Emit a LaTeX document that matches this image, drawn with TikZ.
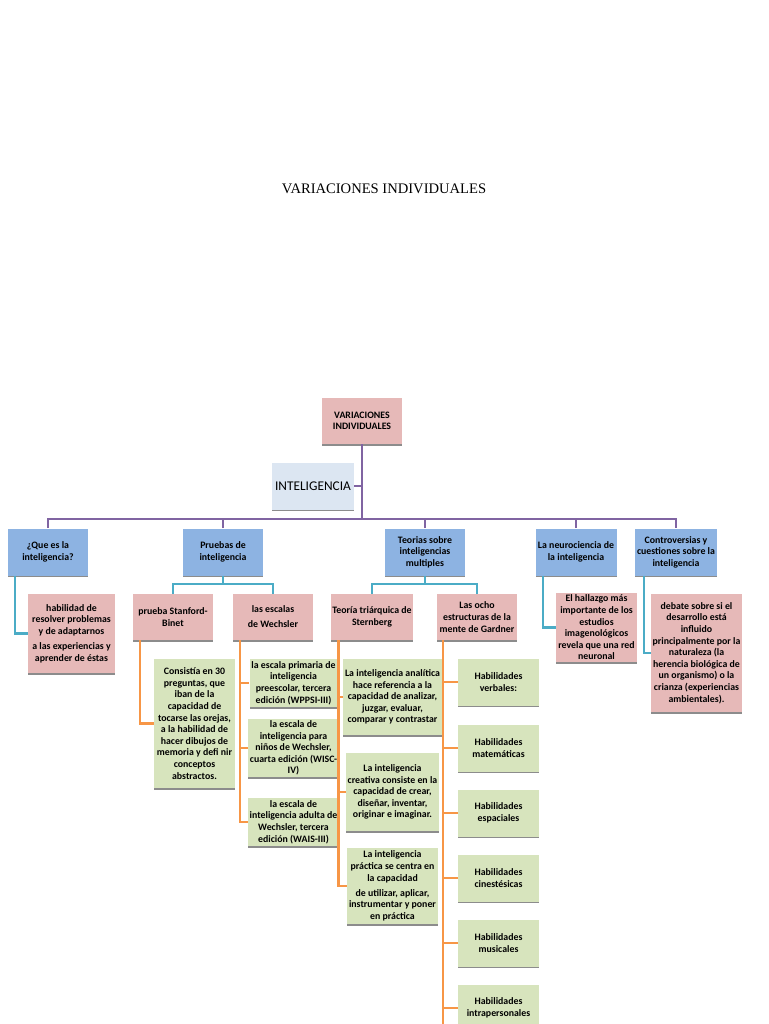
\documentclass[tikz,border=0pt]{standalone}
\usepackage{fontspec}
\setmainfont{Carlito}
\newfontfamily\titlefont{Liberation Serif}
\usetikzlibrary{positioning, calc, shadows}
\definecolor{rosa}{HTML}{E6B9B8}
\definecolor{azul}{HTML}{8DB3E2}
\definecolor{verde}{HTML}{D7E4BD}
\definecolor{celeste}{HTML}{DCE6F2}
\definecolor{morado}{HTML}{8064A2}
\definecolor{cian}{HTML}{4BACC6}
\definecolor{naranja}{HTML}{F79646}
\begin{document}
\begin{tikzpicture}[x=0.02cm, y=-0.02cm,
  box/.style={draw=none, align=center, inner sep=1pt, minimum width=1.62cm,
    font=\fontsize{5.6}{6.6}\selectfont\bfseries,
    drop shadow={shadow xshift=0pt, shadow yshift=-1.1pt, fill=black!45, opacity=1}},
  pink/.style={box, fill=rosa},
  blue/.style={box, fill=azul, minimum height=0.94cm},
  green/.style={box, fill=verde},
  pline/.style={morado, line width=1.4pt},
  cline/.style={cian, line width=1.4pt},
  oline/.style={naranja, line width=1.4pt},
  ]
  \clip (0,0) rectangle (768,1024);
  \fill[white] (0,0) rectangle (768,1024);

  \node[font=\titlefont\fontsize{8.3}{10}\selectfont] (title) at (384,189) {VARIACIONES INDIVIDUALES};

  % root and top level
  \node[pink, minimum height=0.92cm] (root) at (362,421) {VARIACIONES\\INDIVIDUALES};
  \node[box, fill=celeste, minimum width=1.64cm, minimum height=0.94cm,
    font=\fontsize{7.6}{9}\selectfont] (intel) at (313,486) {INTELIGENCIA};
  \coordinate (bar) at (362,519);

  \node[blue] (que) at (48,552) {¿Que es la\\inteligencia?};
  \node[blue] (prue) at (223,552) {Pruebas de\\inteligencia};
  \node[blue] (teo) at (425,552) {Teorias sobre\\inteligencias\\multiples};
  \node[blue] (neuro) at (576,552) {La neurociencia de\\la inteligencia};
  \node[blue] (contro) at (676,552) {Controversias y\\cuestiones sobre la\\inteligencia};

  % second level
  \node[pink, minimum width=1.74cm, minimum height=1.58cm] (hab) at (71.5,633.5)
    {habilidad de\\resolver problemas\\y de adaptarnos\\[2pt]a las experiencias y\\aprender de éstas};
  \node[pink, minimum height=0.92cm] (stan) at (173,617) {prueba Stanford-\\Binet};
  \node[pink, minimum height=0.92cm] (wech) at (273,617) {las escalas\\[2pt]de Wechsler};
  \node[pink, minimum height=0.92cm] (trq) at (372,617) {Teoría triárquica de\\Sternberg};
  \node[pink, minimum height=0.92cm] (gard) at (477,617) {Las ocho\\estructuras de la\\mente de Gardner};
  \node[pink, minimum height=1.34cm] (hall) at (596.5,627.5)
    {El hallazgo más\\importante de los\\estudios\\imagenológicos\\revela que una red\\neuronal};
  \node[pink, minimum height=2.36cm] (deb) at (696.5,653)
    {debate sobre si el\\desarrollo está\\influido\\principalmente por la\\naturaleza (la\\herencia biológica de\\un organismo) o la\\crianza (experiencias\\ambientales).};

  % third level
  \node[green, minimum height=2.58cm] (cons) at (194.5,723.5)
    {Consistía en 30\\preguntas, que\\iban de la\\capacidad de\\tocarse las orejas,\\a la habilidad de\\hacer dibujos de\\memoria y defi nir\\conceptos\\abstractos.};
  \node[green, minimum height=0.96cm] (w1) at (293.5,683) {la escala primaria de\\inteligencia\\preescolar, tercera\\edición (WPPSI-III)};
  \node[green, minimum height=0.96cm] (w2) at (293.5,748) {la escala de\\inteligencia para\\niños de Wechsler,\\cuarta edición (WISC-\\IV)};
  \node[green, minimum height=0.96cm] (w3) at (293.5,822) {la escala de\\inteligencia adulta de\\Wechsler, tercera\\edición (WAIS-III)};
  \node[green, minimum height=1.52cm] (s1) at (392.5,697) {La inteligencia analítica\\hace referencia a la\\capacidad de analizar,\\juzgar, evaluar,\\comparar y contrastar};
  \node[green, minimum height=1.56cm] (s2) at (392.5,792) {La inteligencia\\creativa consiste en la\\capacidad de crear,\\diseñar, inventar,\\originar e imaginar.};
  \node[green, minimum height=1.52cm] (s3) at (392.5,886) {La inteligencia\\práctica se centra en\\la capacidad\\[2pt]de utilizar, aplicar,\\instrumentar y poner\\en práctica};
  \foreach \n/\y/\t in {g1/682/verbales:, g2/748/matemáticas, g3/813/espaciales,
      g4/878/cinestésicas, g5/943/musicales, g6/1008/intrapersonales}
    \node[green, minimum height=0.94cm] (\n) at (498.5,\y) {Habilidades\\\t};

  % purple connectors
  \draw[pline] (root) -- (bar);
  \draw[pline] (intel.east) -- (intel.east -| root);
  \draw[pline] (que.north) |- (bar) -| (contro.north);
  \foreach \n in {prue, teo, neuro}
    \draw[pline] (\n.north) -- (\n.north |- bar);

  % cyan connectors
  \coordinate (pb) at (223,584);
  \coordinate (tb) at (425,584);
  \draw[cline] (prue) -- (pb);
  \draw[cline] (stan.north) |- (pb) -| (wech.north);
  \draw[cline] (teo) -- (tb);
  \draw[cline] (trq.north) |- (tb) -| (gard.north);
  \draw[cline] ($(que.south west)+(8,0)$) |- (hab.west);
  \draw[cline] ($(neuro.south west)+(8,0)$) |- (hall.west);
  \draw[cline] ($(contro.south west)+(9,0)$) |- (deb.west);

  % orange connectors
  \draw[oline] ($(stan.south west)+(8,0)$) |- (cons.west);
  \coordinate (wx) at ($(wech.south west)+(8,0)$);
  \draw[oline] (wx) |- (w3.west);
  \foreach \n in {w1, w2}
    \draw[oline] (wx |- \n.west) -- (\n.west);
  \coordinate (sx) at ($(trq.south west)+(8,0)$);
  \draw[oline] (sx) |- (s3.west);
  \foreach \n in {s1, s2}
    \draw[oline] (sx |- \n.west) -- (\n.west);
  \coordinate (gx) at ($(gard.south west)+(7,0)$);
  \draw[oline] (gx) -- (gx |- 0,1030);
  \foreach \n in {g1, g2, g3, g4, g5, g6}
    \draw[oline] (gx |- \n.west) -- (\n.west);
\end{tikzpicture}
\end{document}
